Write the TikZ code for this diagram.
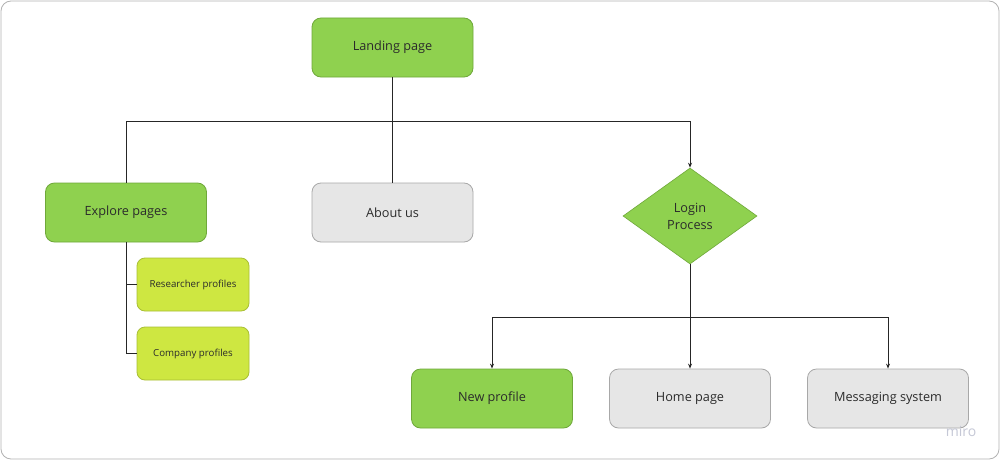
\documentclass[tikz,border=0pt]{standalone}
\usepackage{fontspec}
\setmainfont{Open Sans}
\usetikzlibrary{shapes.geometric,arrows.meta}
\definecolor{mgreen}{HTML}{8FD14F}
\definecolor{mgreenb}{HTML}{6FA83A}
\definecolor{mlime}{HTML}{CEE741}
\definecolor{mlimeb}{HTML}{A9BF35}
\definecolor{mgray}{HTML}{E6E6E6}
\definecolor{mgrayb}{HTML}{A8A8A8}
\definecolor{txt}{HTML}{2B2B2B}
\definecolor{mirocol}{HTML}{C5C8D6}
\begin{document}
\begin{tikzpicture}[x=1pt,y=-1pt,
  box/.style={rounded corners=9pt,minimum width=161pt,minimum height=59pt,inner sep=0pt,font=\fontsize{12.7}{14}\selectfont,text=txt,line width=0.8pt},
  gbox/.style={box,fill=mgreen,draw=mgreenb},
  graybox/.style={box,fill=mgray,draw=mgrayb},
  subbox/.style={rounded corners=8pt,minimum width=112pt,minimum height=53pt,inner sep=0pt,font=\fontsize{9.7}{11}\selectfont,text=txt,fill=mlime,draw=mlimeb,line width=0.8pt},
  dia/.style={diamond,aspect=1.4,fill=mgreen,draw=mgreenb,line width=0.6pt,inner sep=0pt,minimum width=134pt,minimum height=96pt,font=\fontsize{12.7}{17}\selectfont,text=txt,align=center},
  conn/.style={line width=0.9pt,draw=black!85},
  arr/.style={conn,-{Stealth[length=5pt,width=4pt]}}
]
\useasboundingbox (0,0) rectangle (1000,460);
\draw[rounded corners=10pt,draw=black!30,line width=0.8pt,fill=white] (1,1) rectangle (999,459);

\node[gbox] (landing) at (392.5,47.5) {Landing page};
\node[gbox] (explore) at (126,212.5) {Explore pages};
\node[graybox] (about) at (392.5,212.5) {About us};
\node[dia] (login) at (690,216) {Login\\Process};
\node[subbox] (res) at (193,284.5) {Researcher profiles};
\node[subbox] (comp) at (193,353.5) {Company profiles};
\node[gbox] (newp) at (492,398.5) {New profile};
\node[graybox] (home) at (690,398.5) {Home page};
\node[graybox] (msg) at (888,398.5) {Messaging system};

\coordinate (j1) at (392.5,121);
\coordinate (j2) at (690,317);

\draw[conn] (landing.south) -- (j1);
\draw[conn] (j1) -| (explore.north);
\draw[conn] (j1) -- (about.north);
\draw[arr] (j1) -| (login.north);

\draw[conn] (explore.south) |- (res.west);
\draw[conn] (explore.south) |- (comp.west);

\draw[conn] (login.south) -- (j2);
\draw[arr] (j2) -| (newp.north);
\draw[arr] (j2) -- (home.north);
\draw[arr] (j2) -| (msg.north);

\node[font=\fontsize{14}{15}\selectfont,text=mirocol] (miro) at (961,431) {miro};
\end{tikzpicture}
\end{document}
